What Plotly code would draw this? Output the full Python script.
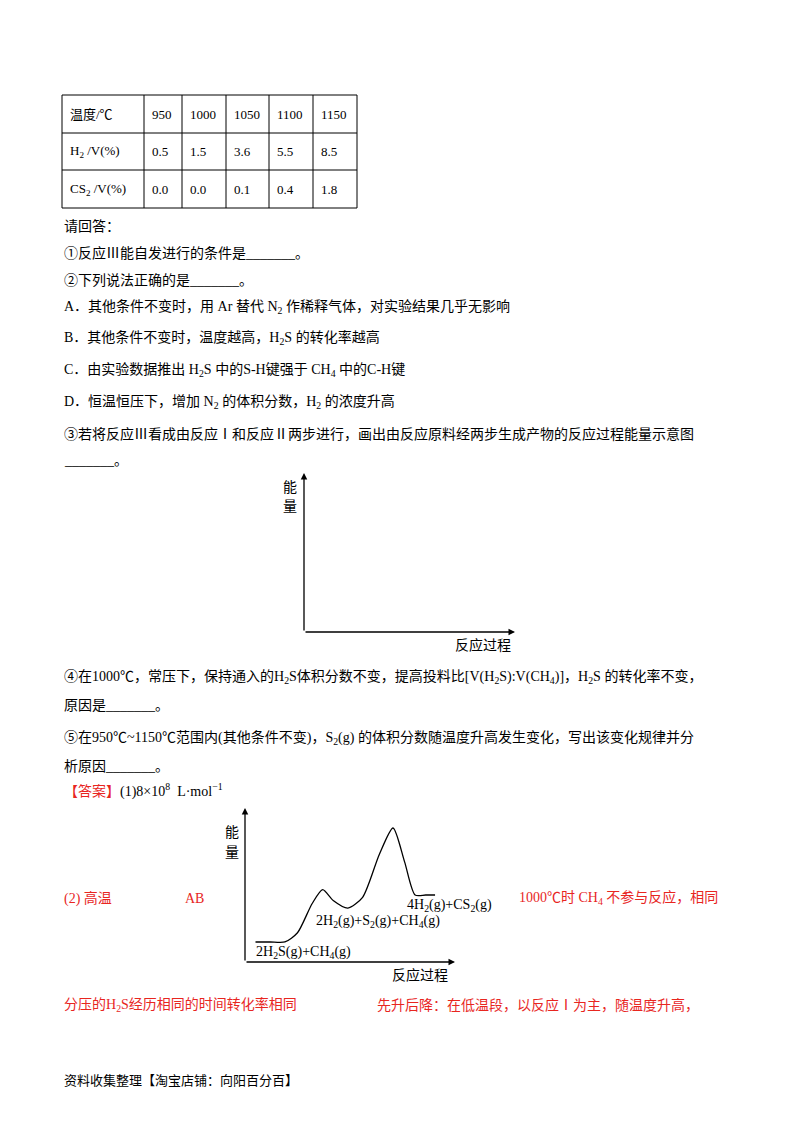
import plotly.graph_objects as go

W, H = 800, 1132
FONT = "Liberation Serif, Noto Sans CJK SC"
RED = "#e8261f"

temps = ["950", "1000", "1050", "1100", "1150"]
h2_vals = ["0.5", "1.5", "3.6", "5.5", "8.5"]
cs2_vals = ["0.0", "0.0", "0.1", "0.4", "1.8"]
row_heads = ["温度/℃", "H<sub>2</sub> /V(%)", "CS<sub>2</sub> /V(%)"]

# energy profile (reaction coordinate, energy)
prof_x = [0.5, 1.2, 1.9, 2.5, 3.2, 3.7, 4.2, 4.9, 5.6, 6.4, 7.05, 7.6, 8.1, 8.6, 9.05]
prof_y = [1.3, 1.3, 1.3, 1.9, 3.8, 4.7, 4.0, 3.5, 4.2, 7.0, 8.7, 6.5, 4.35, 4.35, 4.35]

OFF = 8
def px(x): return (x - OFF) / W
def py(y): return 1 - (y - OFF) / H

fig = go.Figure()
ann = []
shapes = []

def text(x, y, s, color="black", size=14, anchor="left"):
    ann.append(dict(x=px(x), y=py(y), xref="paper", yref="paper", text=s, showarrow=False,
                    xanchor=anchor, yanchor="middle", font=dict(family=FONT, size=size, color=color)))

def line(x0, y0, x1, y1, w=1):
    shapes.append(dict(type="line", xref="paper", yref="paper", x0=px(x0), y0=py(y0), x1=px(x1), y1=py(y1),
                       line=dict(color="black", width=w)))

def arrow(x0, y0, x1, y1):
    ann.append(dict(x=px(x1), y=py(y1), xref="paper", yref="paper", ax=x0 - x1, ay=y0 - y1,
                    showarrow=True, arrowhead=2, arrowsize=1, arrowwidth=1.3, arrowcolor="black", text=""))

# table
cols = [62, 144, 182, 226, 269, 313, 357]
rows = [95, 133, 170, 208]
for c in cols: line(c, rows[0], c, rows[-1])
for r in rows: line(cols[0], r, cols[-1], r)
rowvals = [temps, h2_vals, cs2_vals]
for i in range(3):
    yc = (rows[i] + rows[i + 1]) / 2
    text(cols[0] + 6, yc, row_heads[i], size=13)
    for j, v in enumerate(rowvals[i]):
        text(cols[j + 1] + 6, yc, v, size=13)

text(62, 226, "请回答：")
text(62, 253, "①反应Ⅲ能自发进行的条件是_______。")
text(62, 281, "②下列说法正确的是_______。")
text(62, 307, "A．其他条件不变时，用 Ar 替代 N<sub>2</sub> 作稀释气体，对实验结果几乎无影响")
text(62, 338, "B．其他条件不变时，温度越高，H<sub>2</sub>S 的转化率越高")
text(62, 370, "C．由实验数据推出 H<sub>2</sub>S 中的S-H键强于 CH<sub>4</sub> 中的C-H键")
text(62, 402, "D．恒温恒压下，增加 N<sub>2</sub> 的体积分数，H<sub>2</sub> 的浓度升高")
text(62, 434, "③若将反应Ⅲ看成由反应Ⅰ和反应Ⅱ两步进行，画出由反应原料经两步生成产物的反应过程能量示意图")
text(62, 461, "_______。")

# empty diagram
arrow(304, 632, 304, 473)
arrow(304, 632, 515, 632)
text(290, 487, "能", anchor="center")
text(290, 506, "量", anchor="center")
text(483, 645, "反应过程", anchor="center")

text(62, 677, "④在1000℃，常压下，保持通入的H<sub>2</sub>S体积分数不变，提高投料比[V(H<sub>2</sub>S):V(CH<sub>4</sub>)]，H<sub>2</sub>S 的转化率不变，")
text(62, 705, "原因是_______。")
text(62, 738, "⑤在950℃~1150℃范围内(其他条件不变)，S<sub>2</sub>(g) 的体积分数随温度升高发生变化，写出该变化规律并分")
text(62, 766, "析原因_______。")
text(62, 790, "【答案】<span style='color:black'>(1)8×10<sup>8</sup>  L·mol<sup>−1</sup></span>", color=RED)

# answer diagram
x0p, x1p, y0p, y1p = 245, 455, 962, 808
fig.add_trace(go.Scatter(x=prof_x, y=prof_y, mode="lines",
                         line=dict(color="black", width=1.3, shape="spline", smoothing=0.7),
                         xaxis="x", yaxis="y", showlegend=False, hoverinfo="skip"))
arrow(x0p, y0p, x0p, y1p)
arrow(x0p, y0p, x1p, y0p)
text(232, 832, "能", anchor="center")
text(232, 852, "量", anchor="center")
text(420, 975, "反应过程", anchor="center")
text(254, 952, "2H<sub>2</sub>S(g)+CH<sub>4</sub>(g)")
text(314, 921, "2H<sub>2</sub>(g)+S<sub>2</sub>(g)+CH<sub>4</sub>(g)")
text(405, 905, "4H<sub>2</sub>(g)+CS<sub>2</sub>(g)")
text(62, 898, "(2) 高温", color=RED)
text(183, 898, "AB", color=RED)
text(517, 898, "1000℃时 CH<sub>4</sub> 不参与反应，相同", color=RED)
text(62, 1005, "分压的H<sub>2</sub>S经历相同的时间转化率相同", color=RED)
text(375, 1005, "先升后降：在低温段，以反应Ⅰ为主，随温度升高，", color=RED)
text(62, 1080, "资料收集整理【淘宝店铺：向阳百分百】", size=13)

fig.update_layout(
    width=W, height=H, margin=dict(l=0, r=0, t=0, b=0),
    paper_bgcolor="white", plot_bgcolor="rgba(0,0,0,0)",
    xaxis=dict(domain=[px(x0p), px(x1p)], range=[0, 10], visible=False, fixedrange=True),
    yaxis=dict(domain=[py(y0p), py(y1p)], range=[0, 10], visible=False, fixedrange=True),
    annotations=ann, shapes=shapes,
)
fig.write_html("out.html")
